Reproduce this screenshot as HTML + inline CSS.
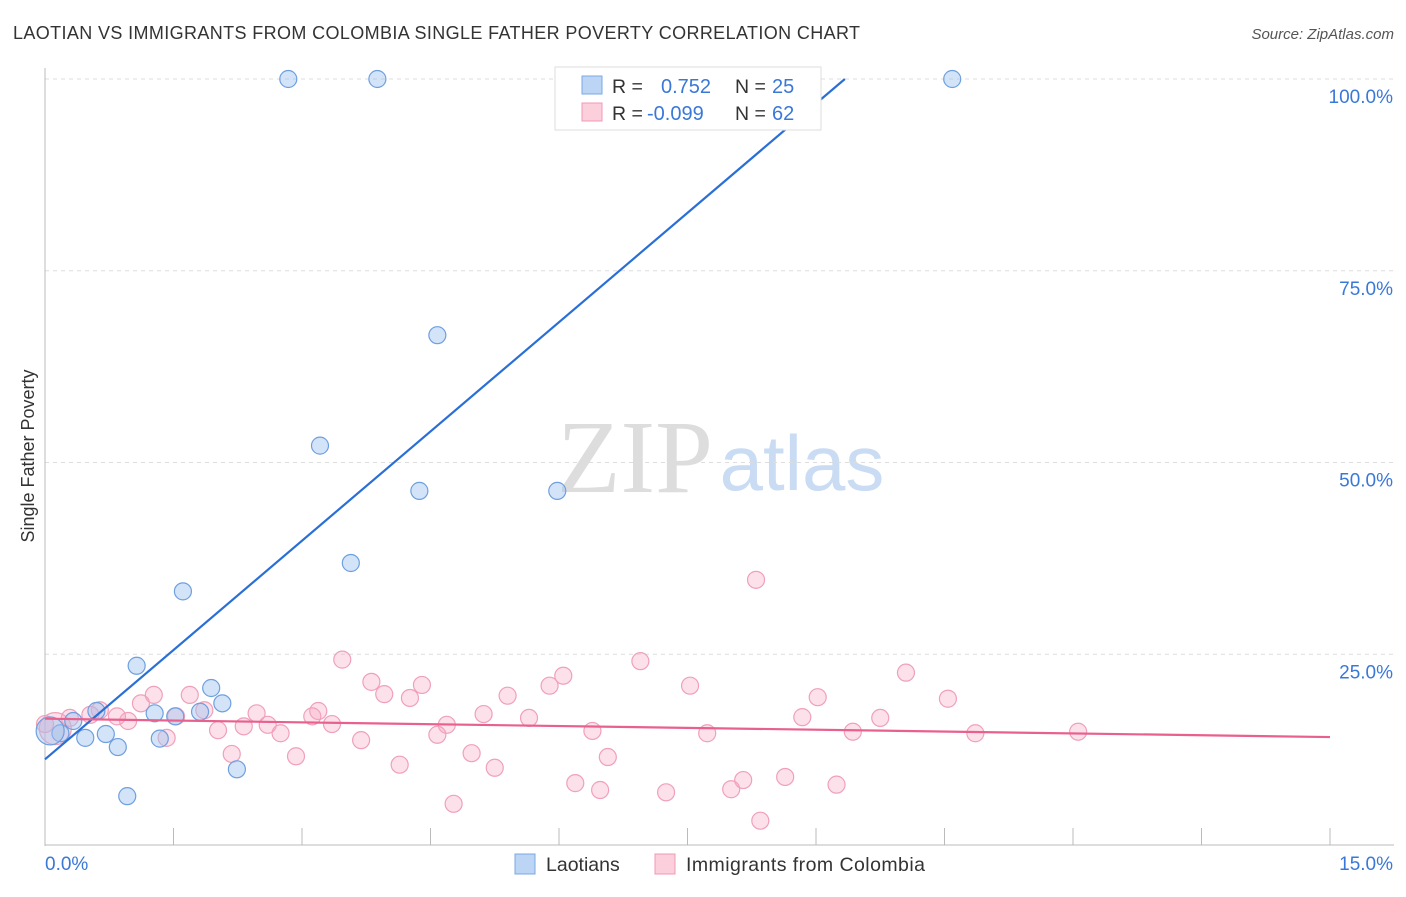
<!DOCTYPE html>
<html><head><meta charset="utf-8"><style>
body{margin:0;background:#fff;font-family:"Liberation Sans",sans-serif}
</style></head><body>
<svg id="c" width="1406" height="892" xmlns="http://www.w3.org/2000/svg">
<text x="13" y="39" font-size="18" fill="#333" textLength="847" lengthAdjust="spacing">LAOTIAN VS IMMIGRANTS FROM COLOMBIA SINGLE FATHER POVERTY CORRELATION CHART</text>
<text x="1394" y="39" font-size="15" fill="#555" font-style="italic" text-anchor="end">Source: ZipAtlas.com</text>
<text x="34" y="456" font-size="18" fill="#333" transform="rotate(-90 34 456)" text-anchor="middle">Single Father Poverty</text>
<g><text x="635" y="492" font-size="104" font-family="Liberation Serif,serif" fill="#ddd" text-anchor="middle">ZIP</text><text x="802" y="490" font-size="78" fill="#c9dcf3" text-anchor="middle">atlas</text></g>
<g id="grid"></g><g id="pts"></g><g id="lines"></g>
<g>
<rect x="555" y="67" width="266" height="63" fill="#fff" stroke="#ddd"/>
<rect x="582" y="76" width="20" height="18" fill="#bcd5f5" stroke="#7aa8e6"/>
<rect x="582" y="103" width="20" height="18" fill="#fbcfdc" stroke="#f09ab5"/>
<text x="612" y="93" font-size="19.5" fill="#333">R = </text><text x="661" y="93" font-size="20" fill="#3a78d8">0.752</text>
<text x="735" y="93" font-size="19.5" fill="#333">N = </text><text x="772" y="93" font-size="20" fill="#3a78d8">25</text>
<text x="612" y="120" font-size="19.5" fill="#333">R = </text><text x="647" y="120" font-size="20" fill="#3a78d8">-0.099</text>
<text x="735" y="120" font-size="19.5" fill="#333">N = </text><text x="772" y="120" font-size="20" fill="#3a78d8">62</text>
</g>
<g>
<rect x="515" y="854" width="20" height="20" fill="#bcd5f5" stroke="#7aa8e6"/><text x="546" y="871" font-size="19.5" fill="#333">Laotians</text>
<rect x="655" y="854" width="20" height="20" fill="#fbcfdc" stroke="#f09ab5"/><text x="686" y="871" font-size="19.5" fill="#333" textLength="239">Immigrants from Colombia</text>
</g>
</svg>
<script>
const blueX=[2.84,3.88,10.59,4.58,3.21,4.37,5.98,3.57,1.61,1.07,1.94,2.07,0.60,1.28,1.81,1.52,0.33,0.71,0.47,0.18,1.34,0.85,2.24,0.96,0.06];
const blueY=[100,100,100,66.6,52.2,46.3,46.3,36.9,33.2,23.5,20.6,18.6,17.6,17.3,17.5,16.9,16.3,14.6,14.1,14.7,14.0,12.9,10.0,6.5,15.0];
const pinkX=[8.30,3.47,6.95,10.05,3.81,6.05,4.40,5.89,7.53,1.27,1.69,3.96,4.26,5.40,9.02,10.54,0.64,1.12,1.86,2.47,3.19,1.53,3.12,5.12,5.65,8.84,9.75,0.97,0.84,2.32,2.60,3.35,4.69,2.02,2.75,6.39,7.73,9.43,10.86,12.06,1.42,3.69,4.58,2.18,2.93,4.98,6.57,4.14,5.25,6.19,7.25,8.15,8.64,9.24,6.48,8.01,4.77,8.35,0.29,0.53,0.12,0.0];
const pinkY=[34.7,24.3,24.1,22.6,21.4,22.2,21.0,20.9,20.9,19.7,19.7,19.8,19.3,19.6,19.4,19.2,17.7,18.6,17.7,17.3,17.6,16.9,16.9,17.2,16.7,16.8,16.7,16.3,16.9,15.6,15.8,15.9,15.8,15.1,14.7,15.0,14.7,14.9,14.7,14.9,14.1,13.8,14.5,12.0,11.7,12.1,11.6,10.6,10.2,8.2,7.0,8.6,9.0,8.0,7.3,7.4,5.5,3.3,16.7,17.1,15.3,15.9];
const blueTrend=[11.3,9.5];
const pinkTrend=[16.6,-0.16];
const yTicks=[25,50,75,100];
const xTickVals=[0,1.5,3,4.5,6,7.5,9,10.5,12,13.5,15];
const sx=v=>45+v*(1285/15), sy=v=>846-v*7.67;
const NS='http://www.w3.org/2000/svg';
function mk(p,t,a){const e=document.createElementNS(NS,t);for(const k in a)e.setAttribute(k,a[k]);p.appendChild(e);return e;}
const g=document.getElementById('grid');
yTicks.forEach(v=>{
 const l=mk(g,'line',{x1:45,x2:1394,y1:sy(v),y2:sy(v),stroke:'#ddd','stroke-dasharray':'4 4'});
 
 
 const t=mk(g,'text',{x:1393,y:sy(v)+24,'font-size':19,fill:'#3a78d8','text-anchor':'end'});t.textContent=v.toFixed(1)+'%';
 
 
});
mk(g,'line',{x1:45,x2:45,y1:68,y2:846,stroke:'#bbb'});
mk(g,'line',{x1:45,x2:1394,y1:845,y2:845,stroke:'#bbb'});
xTickVals.forEach(v=>{const l=mk(g,'line',{x1:sx(v),x2:sx(v),y1:828,y2:845,stroke:'#bbb'});
 
 });
let t1=mk(g,'text',{x:45,y:870,'font-size':19,fill:'#3a78d8'});t1.textContent='0.0%';


let t2=mk(g,'text',{x:1393,y:870,'font-size':19,fill:'#3a78d8','text-anchor':'end'});t2.textContent='15.0%';


const P=document.getElementById('pts');
pinkX.forEach((x,i)=>{const c=mk(P,'circle',{cx:sx(x),cy:sy(pinkY[i]),r:i==60?16:8.5,fill:'rgba(246,170,195,0.35)',stroke:'#f0a0ba','stroke-width':1.2});
 
 });
blueX.forEach((x,i)=>{const c=mk(P,'circle',{cx:sx(x),cy:sy(blueY[i]),r:i==24?14:8.5,fill:'rgba(160,195,240,0.45)',stroke:'#6e9fe0','stroke-width':1.2});
 
 });
const L=document.getElementById('lines');
const xe=(100-blueTrend[0])/blueTrend[1];
let b=mk(L,'line',{x1:sx(0),y1:sy(blueTrend[0]),x2:sx(xe),y2:sy(100),stroke:'#2a6fd6','stroke-width':2.2});


let p=mk(L,'line',{x1:sx(0),y1:sy(pinkTrend[0]),x2:sx(15),y2:sy(pinkTrend[0]+15*pinkTrend[1]),stroke:'#e8608e','stroke-width':2.2});


</script>
</body></html>
